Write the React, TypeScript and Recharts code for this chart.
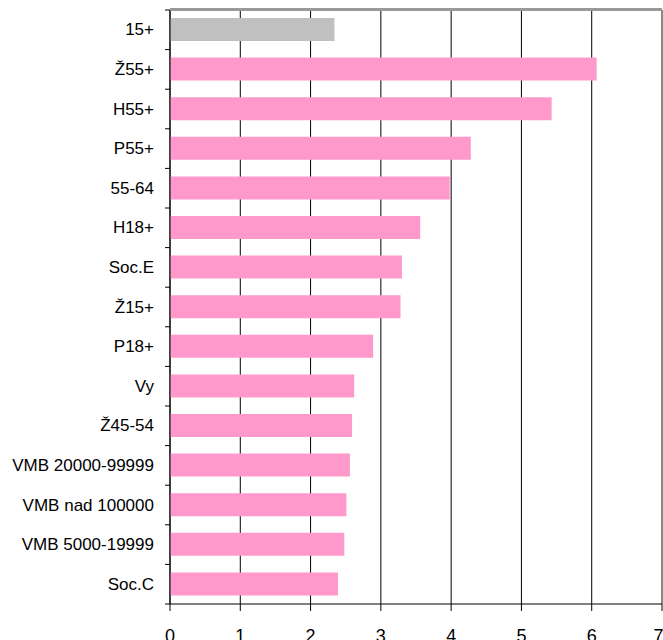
import React from 'react';
import { BarChart, Bar, XAxis, YAxis, CartesianGrid, Cell, ReferenceLine } from 'recharts';

const categories = [
  '15+', 'Ž55+', 'H55+', 'P55+', '55-64', 'H18+', 'Soc.E', 'Ž15+',
  'P18+', 'Vy', 'Ž45-54', 'VMB 20000-99999', 'VMB nad 100000', 'VMB 5000-19999', 'Soc.C',
];
const values = [2.34, 6.07, 5.43, 4.28, 3.98, 3.56, 3.3, 3.28, 2.89, 2.62, 2.59, 2.56, 2.51, 2.48, 2.39];
const xTicks = [0, 1, 2, 3, 4, 5, 6, 7];

const data = categories.map((name, i) => ({ name, value: values[i] }));

const WIDTH = 663;
const HEIGHT = 640;
const TOP = 10;
const RIGHT = 1;
const Y_AXIS_W = 170;
const X_AXIS_H = 36;
const BAND = (HEIGHT - TOP - X_AXIS_H) / categories.length;
const FONT = '"Liberation Sans", Arial, sans-serif';

const CategoryTick = ({ x, y, payload, index }: any) => (
  <g>
    {index === 0 && <line x1={x - 5} x2={x} y1={y - BAND / 2} y2={y - BAND / 2} stroke="#000" />}
    <line x1={x - 5} x2={x} y1={y + BAND / 2} y2={y + BAND / 2} stroke="#000" />
    <text x={x - 16} y={y} textAnchor="end" dominantBaseline="central" fontSize={17} fill="#000" fontFamily={FONT}>
      {payload.value}
    </text>
  </g>
);

export default function App() {
  return (
    <div style={{ position: 'absolute', left: 0, top: 0, width: WIDTH, height: HEIGHT, background: '#fff' }}>
      <BarChart
        width={WIDTH}
        height={HEIGHT}
        data={data}
        layout="vertical"
        margin={{ top: TOP, right: RIGHT, left: 0, bottom: 0 }}
      >
        <CartesianGrid horizontal={false} stroke="#000" />
        <XAxis
          type="number"
          domain={[0, 7]}
          ticks={xTicks}
          height={X_AXIS_H}
          stroke="#000"
          tickSize={7}
          tickMargin={18}
          tick={{ fontSize: 18, fill: '#000', fontFamily: FONT }}
        />
        <YAxis
          type="category"
          dataKey="name"
          width={Y_AXIS_W}
          stroke="#000"
          tickSize={0}
          tickMargin={0}
          tickLine={false}
          interval={0}
          tick={<CategoryTick />}
        />
        <ReferenceLine x={7} stroke="#888" strokeWidth={2} />
        <Bar dataKey="value" barSize={23} isAnimationActive={false}>
          {data.map((d, i) => (
            <Cell key={d.name} fill={i === 0 ? '#C0C0C0' : '#FF99CC'} />
          ))}
        </Bar>
      </BarChart>
      {/* gray frame line along the top of the plot area */}
      <div
        style={{
          position: 'absolute',
          left: Y_AXIS_W,
          top: TOP - 2,
          width: WIDTH - RIGHT - Y_AXIS_W,
          height: 3,
          background: '#999',
        }}
      />
    </div>
  );
}
